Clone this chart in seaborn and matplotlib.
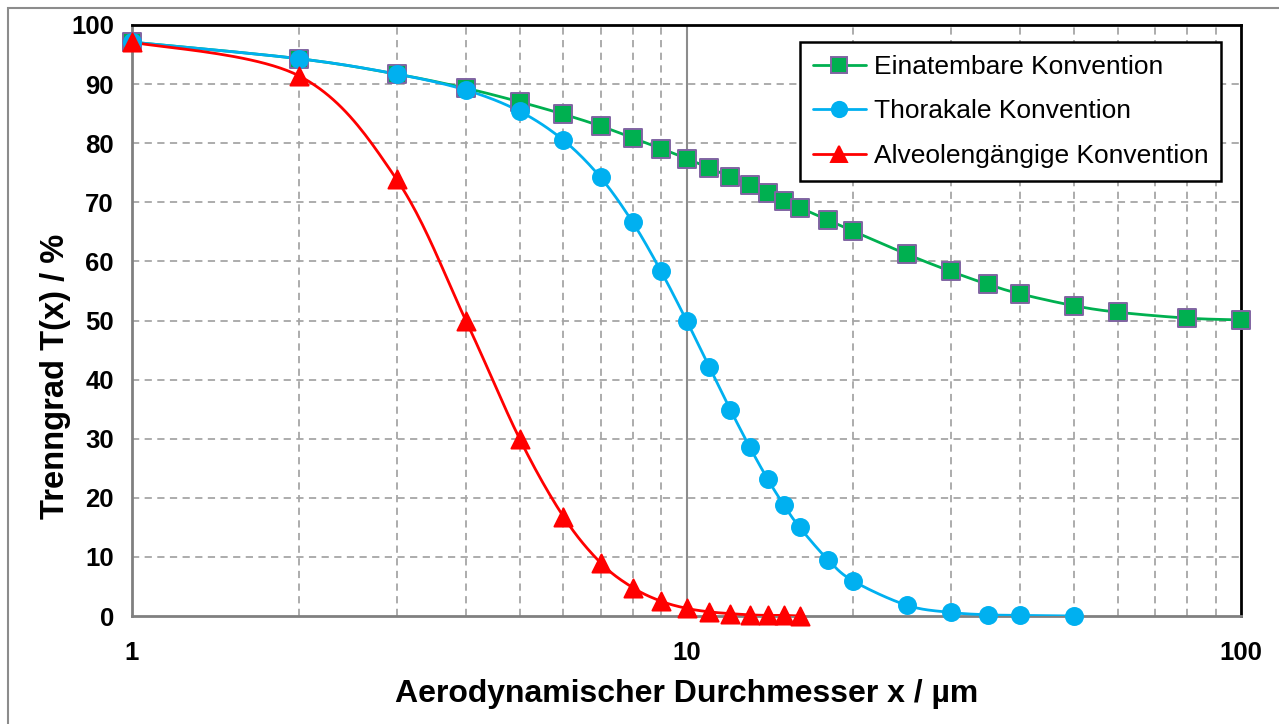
import numpy as np
import pandas as pd
import matplotlib
matplotlib.use("Agg")
import matplotlib.pyplot as plt
from matplotlib.lines import Line2D
from matplotlib.patches import Rectangle
from matplotlib.ticker import FixedLocator, NullFormatter
import seaborn as sns

# Particle size (µm) and separation efficiency (%) for the three conventions
x_einatembar = [1, 2, 3, 4, 5, 6, 7, 8, 9, 10, 11, 12, 13, 14, 15, 16, 18, 20,
                25, 30, 35, 40, 50, 60, 80, 100]
t_einatembar = [97.1, 94.3, 91.7, 89.3, 87.0, 84.9, 82.9, 80.9, 79.1, 77.4, 75.8,
                74.3, 72.9, 71.6, 70.3, 69.1, 67.0, 65.1, 61.2, 58.3, 56.1, 54.5,
                52.5, 51.4, 50.4, 50.1]

x_thorakal = [1, 2, 3, 4, 5, 6, 7, 8, 9, 10, 11, 12, 13, 14, 15, 16, 18, 20,
              25, 30, 35, 40, 50]
t_thorakal = [97.1, 94.3, 91.7, 89.0, 85.4, 80.5, 74.2, 66.6, 58.3, 50.0, 42.1,
              34.9, 28.6, 23.2, 18.7, 15.0, 9.5, 5.9, 1.8, 0.6, 0.2, 0.1, 0.0]

x_alveolen = [1, 2, 3, 4, 5, 6, 7, 8, 9, 10, 11, 12, 13, 14, 15, 16]
t_alveolen = [97.1, 91.4, 73.9, 50.0, 30.0, 16.8, 9.0, 4.8, 2.5, 1.3, 0.7, 0.4,
              0.2, 0.1, 0.1, 0.0]

labels = ["Einatembare Konvention", "Thorakale Konvention",
          "Alveolengängige Konvention"]

W, H = 1279, 724
DPI = 100
AX_L, AX_R, AX_T, AX_B = 132, 1241, 25, 616
ax_w, ax_h = AX_R - AX_L, AX_B - AX_T


def smooth_curve(xs, ys, n=24):
    """Bezier smoothing through the points, done in on-screen proportions."""
    u = np.log10(np.asarray(xs, float)) / 2.0 * ax_w
    v = np.asarray(ys, float) / 100.0 * ax_h
    pts = np.column_stack([u, v])
    out = [pts[0]]
    t = np.linspace(0, 1, n + 1)[1:]
    for i in range(len(pts) - 1):
        p0 = pts[i - 1] if i > 0 else pts[i]
        p1, p2 = pts[i], pts[i + 1]
        p3 = pts[i + 2] if i + 2 < len(pts) else pts[i + 1]
        c1 = p1 + (p2 - p0) / 6.0
        c2 = p2 - (p3 - p1) / 6.0
        seg = ((1 - t) ** 3)[:, None] * p1 + (3 * (1 - t) ** 2 * t)[:, None] * c1 \
            + (3 * (1 - t) * t ** 2)[:, None] * c2 + (t ** 3)[:, None] * p2
        out.extend(seg)
    out = np.array(out)
    return 10 ** (out[:, 0] / ax_w * 2.0), out[:, 1] / ax_h * 100.0


sns.set_theme(style="white")
plt.rcParams["font.family"] = ["Liberation Sans", "DejaVu Sans"]
plt.rcParams.update({"text.color": "black", "axes.labelcolor": "black",
                     "xtick.labelcolor": "black", "ytick.labelcolor": "black"})

fig = plt.figure(figsize=(W / DPI, H / DPI), dpi=DPI)
ax = fig.add_axes([AX_L / W, 1 - AX_B / H, ax_w / W, ax_h / H])

# outer chart frame
fig.patches.append(Rectangle((8 / W, -0.05), 1.1, 1 - 8 / H + 0.05,
                             transform=fig.transFigure, fill=False,
                             edgecolor="#8c8c8c", linewidth=1.5, zorder=0))

ax.set_xscale("log")
ax.set_xlim(1, 100)
ax.set_ylim(0, 100)

# grid
grid_c = "#a6a6a6"
for yv in range(10, 100, 10):
    ax.axhline(yv, color=grid_c, lw=1.3, ls=(0, (4, 3)), zorder=1)
for dec in (1, 10):
    for m in range(2, 10):
        ax.axvline(dec * m, color=grid_c, lw=1.3, ls=(0, (4, 3)), zorder=1)
ax.axvline(10, color="#8c8c8c", lw=1.5, zorder=1)

series = [
    (x_einatembar, t_einatembar, "#00B050", "s", "#8064A2"),
    (x_thorakal, t_thorakal, "#00B0F0", "o", "#00B0F0"),
    (x_alveolen, t_alveolen, "#FF0000", "^", "#FF0000"),
]

handles = []
for (xs, ys, col, mk, ec), lab in zip(series, labels):
    cx, cy = smooth_curve(xs, ys)
    sns.lineplot(x=cx, y=cy, sort=False, estimator=None, color=col, lw=2.0,
                 ax=ax, zorder=3)
    sns.scatterplot(x=xs, y=ys, marker=mk, s=150 if mk != "^" else 170,
                    color=col, edgecolor=ec, linewidth=1.4, ax=ax, zorder=4,
                    clip_on=False)
    handles.append(Line2D([], [], color=col, lw=2.0, marker=mk, markersize=11,
                          markerfacecolor=col, markeredgecolor=ec,
                          markeredgewidth=1.4, label=lab))

# spines
for side in ("top", "right"):
    ax.spines[side].set_color("black")
    ax.spines[side].set_linewidth(2.0)
for side in ("left", "bottom"):
    ax.spines[side].set_color("#808080")
    ax.spines[side].set_linewidth(2.0)
ax.set_axisbelow(False)

ax.xaxis.set_major_locator(FixedLocator([1, 10, 100]))
ax.set_xticklabels(["1", "10", "100"])
ax.xaxis.set_minor_locator(FixedLocator([]))
ax.xaxis.set_minor_formatter(NullFormatter())
ax.set_yticks(range(0, 101, 10))
ax.tick_params(axis="both", which="major", direction="out", length=7,
               width=1.5, color="#808080", labelcolor="black",
               labelsize=18.5, pad=6)
ax.tick_params(axis="x", pad=11)
for lbl in ax.get_xticklabels() + ax.get_yticklabels():
    lbl.set_fontweight("bold")

ax.set_xlabel("Aerodynamischer Durchmesser x / µm", fontsize=23,
              fontweight="bold", labelpad=10, color="black")
ax.set_ylabel("Trenngrad T(x) / %", fontsize=23.5, fontweight="bold",
              labelpad=0, color="black")
ax.yaxis.label.set_y(0.406)

leg = ax.legend(handles=handles, loc="upper right",
                bbox_to_anchor=(0.982, 0.971), fontsize=19, frameon=True,
                fancybox=False, edgecolor="black", framealpha=1,
                handlelength=2.0, handletextpad=0.3, labelspacing=0.78,
                borderpad=0.48, borderaxespad=0, labelcolor="black")
leg.get_frame().set_linewidth(1.8)
leg.set_zorder(10)

fig.savefig("out.png", dpi=DPI, facecolor="white")
